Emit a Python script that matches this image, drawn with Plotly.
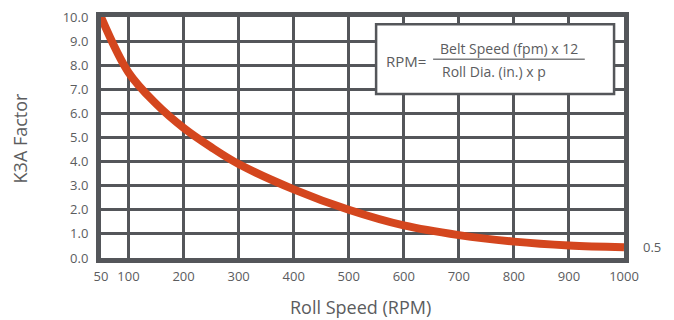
import plotly.graph_objects as go

# Roll speed (RPM) vs K3A factor
rpm = [50, 100, 150, 200, 250, 300, 400, 500, 600, 700, 800, 900, 1000]
k3a = [10.0, 7.7, 6.4, 5.4, 4.6, 3.9, 2.85, 2.0, 1.35, 0.95, 0.68, 0.52, 0.45]

x_ticks = [50, 100, 200, 300, 400, 500, 600, 700, 800, 900, 1000]
y_ticks = [0, 1, 2, 3, 4, 5, 6, 7, 8, 9, 10]

GRID = "#54565a"
TXT = "#5b5c5e"
FONT = "Open Sans"

fig = go.Figure()
fig.add_trace(go.Scatter(x=rpm, y=k3a, mode="lines", line_shape="spline",
                         line=dict(color="#d4461e", width=8), hoverinfo="skip"))

# page has an 8px body margin, so the figure is sized 8px smaller
fig.update_layout(
    width=666, height=312, autosize=False,
    margin=dict(l=93, r=50, t=9, b=62, autoexpand=False),
    paper_bgcolor="white", plot_bgcolor="white",
    showlegend=False,
    font=dict(family=FONT, color=TXT, size=13),
    xaxis=dict(range=[50, 1000], tickvals=x_ticks, ticktext=[str(v) for v in x_ticks],
               showgrid=True, gridcolor=GRID, gridwidth=2.5,
               showline=True, linecolor=GRID, linewidth=5, mirror=True,
               zeroline=False, ticks="", automargin=False, ticklabelstandoff=2,
               ticklabeloverflow="allow"),
    yaxis=dict(range=[0, 10], tickvals=y_ticks, tickformat=".1f",
               showgrid=True, gridcolor=GRID, gridwidth=2.5,
               showline=True, linecolor=GRID, linewidth=5, mirror=True,
               zeroline=False, ticks="", automargin=False, ticklabelstandoff=5,
               ticklabeloverflow="allow"),
)

# axis titles
fig.add_annotation(text="Roll Speed (RPM)", xref="paper", yref="paper", x=0.497, y=-0.203,
                   xanchor="center", yanchor="middle", showarrow=False,
                   font=dict(size=18, color=TXT))
fig.add_annotation(text="K3A Factor", xref="paper", yref="paper", x=-0.155, y=0.5,
                   xanchor="center", yanchor="middle", textangle=-90, showarrow=False,
                   font=dict(size=18, color=TXT))

# formula box
fig.add_shape(type="rect", xref="paper", yref="paper", x0=0.526, x1=0.981, y0=0.68, y1=0.97,
              fillcolor="white", line=dict(color=GRID, width=2.5), layer="above")
fig.add_shape(type="line", xref="paper", yref="paper", x0=0.635, x1=0.925, y0=0.825, y1=0.825,
              line=dict(color="#7d7e80", width=1.5), layer="above")
fig.add_annotation(text="RPM=", xref="paper", yref="paper", x=0.583, y=0.816,
                   xanchor="center", yanchor="middle", showarrow=False,
                   font=dict(size=15, color=TXT))
fig.add_annotation(text="Belt Speed (fpm) x 12", xref="paper", yref="paper", x=0.78, y=0.869,
                   xanchor="center", yanchor="middle", showarrow=False,
                   font=dict(size=14, color=TXT))
fig.add_annotation(text="Roll Dia. (in.) x p", xref="paper", yref="paper", x=0.648, y=0.772,
                   xanchor="left", yanchor="middle", showarrow=False,
                   font=dict(size=14, color=TXT))
fig.add_annotation(text="0.5", xref="paper", yref="y", x=1.032, y=0.45,
                   xanchor="left", yanchor="middle", showarrow=False,
                   font=dict(size=13, color=TXT))

fig.write_html("out.html")
